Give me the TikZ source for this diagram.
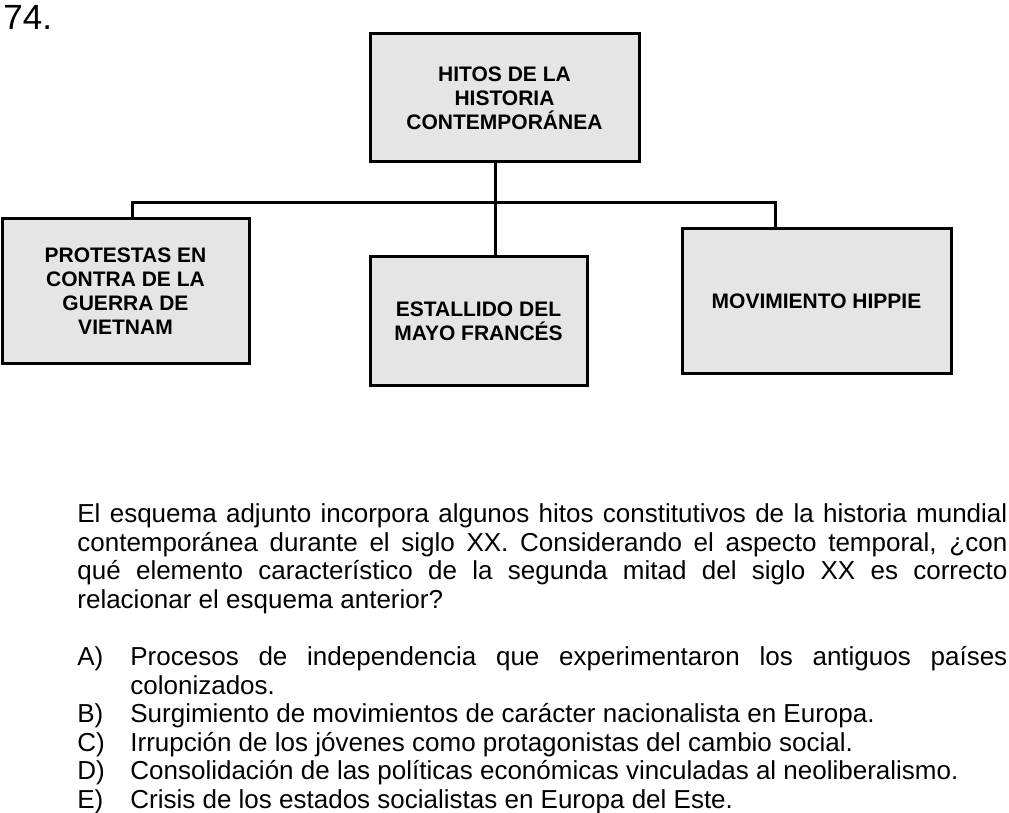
\documentclass[tikz,border=0pt]{standalone}
\usepackage{fontspec}
\setmainfont{Liberation Sans}
\tolerance=10000
\hyphenpenalty=10000

\begin{document}
\begin{tikzpicture}[x=0.5pt, y=-0.5pt,
    hito/.style={draw, line width=1.5pt, fill=gray!20, align=center, inner sep=0pt,
        font=\bfseries\fontsize{10.5}{12}\selectfont},
    link/.style={line width=1.5pt},
    txt/.style={inner sep=0pt, anchor=base west, font=\fontsize{13}{14.2}\selectfont}]
    \useasboundingbox (0,0) rectangle (1009,813);

    % Question number
    \node[inner sep=0pt, anchor=base west, font=\fontsize{17.5}{20}\selectfont] (num) at (3,30) {74.};

    % Boxes
    \node[hito, minimum width=134.5pt, minimum height=64pt] (top) at (504.5,98) {HITOS DE LA\\HISTORIA\\CONTEMPORÁNEA};
    \node[hito, minimum width=123.5pt, minimum height=72.5pt] (left) at (125.5,291.5) {PROTESTAS EN\\CONTRA DE LA\\GUERRA DE\\VIETNAM};
    \node[hito, minimum width=108.5pt, minimum height=64.5pt] (mid) at (478.5,321.5) {ESTALLIDO DEL\\MAYO FRANCÉS};
    \node[hito, minimum width=134.5pt, minimum height=72.5pt] (right) at (816.5,301.5) {MOVIMIENTO HIPPIE};

    % Connectors
    \coordinate (trunk) at (495.5,202.5);
    \coordinate (barL) at (132,202.5);
    \coordinate (barR) at (775.5,202.5);
    \draw[link] (top.south -| trunk) -- (mid.north -| trunk);
    \draw[link] (left.north -| barL) -- (barL) -- (barR) -- (right.north -| barR);

    % Statement
    \node[txt, text width=465pt, align=justify] (enun) at (77,523) {El esquema adjunto incorpora algunos hitos constitutivos de la historia mundial\linebreak contemporánea durante el siglo XX. Considerando el aspecto temporal, ¿con\linebreak qué elemento característico de la segunda mitad del siglo XX es correcto\linebreak relacionar el esquema anterior?};

    % Options
    \node[txt] (optA) at (77,666) {A)};
    \node[txt, text width=438.5pt, align=justify] (resA) at (130,666) {Procesos de independencia que experimentaron los antiguos países\linebreak colonizados.};
    \node[txt] (optB) at (77,722.8) {B)};
    \node[txt] (resB) at (130,722.8) {Surgimiento de movimientos de carácter nacionalista en Europa.};
    \node[txt] (optC) at (77,751.2) {C)};
    \node[txt] (resC) at (130,751.2) {Irrupción de los jóvenes como protagonistas del cambio social.};
    \node[txt] (optD) at (77,779.6) {D)};
    \node[txt] (resD) at (130,779.6) {Consolidación de las políticas económicas vinculadas al neoliberalismo.};
    \node[txt] (optE) at (77,808) {E)};
    \node[txt] (resE) at (130,808) {Crisis de los estados socialistas en Europa del Este.};
\end{tikzpicture}
\end{document}
